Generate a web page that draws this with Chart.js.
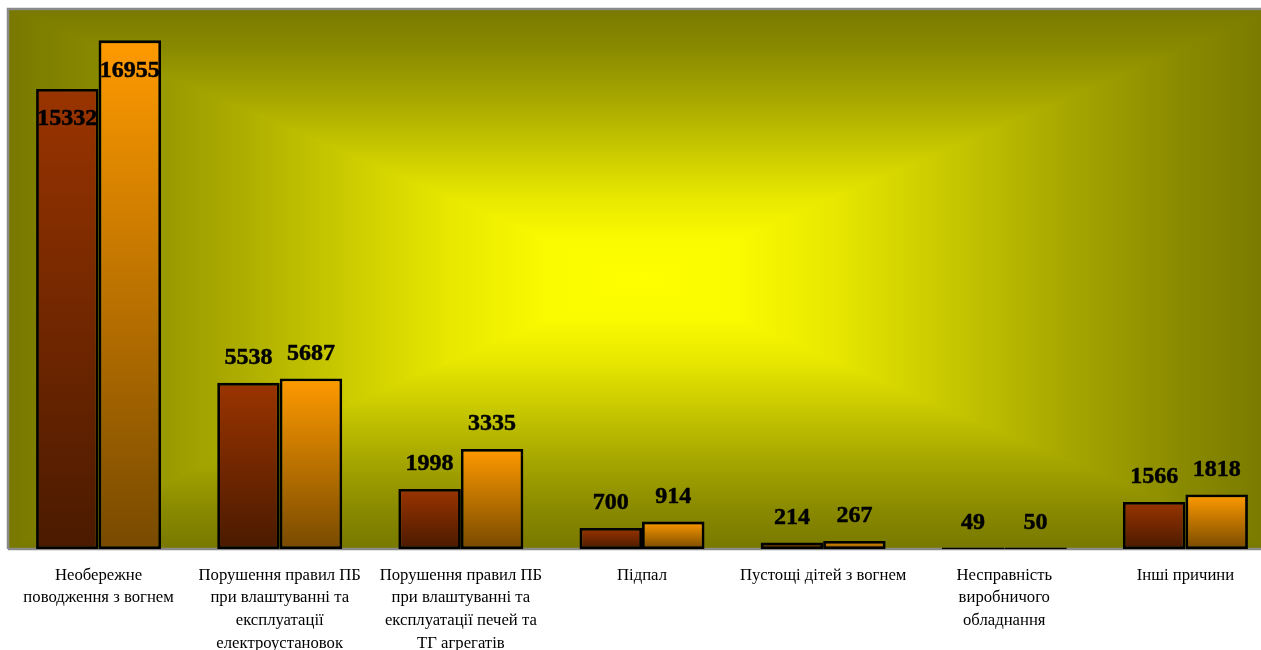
<!DOCTYPE html>
<html>
<head>
<meta charset="utf-8">
<script src="https://cdn.jsdelivr.net/npm/chart.js@4"></script>
<style>
html,body{margin:0;padding:0;background:#fff;overflow:hidden;}
#wrap{position:relative;width:1280px;height:650px;}
</style>
</head>
<body>
<div id="wrap"><canvas id="c"></canvas></div>
<script>
const categories = [
  ["Необережне", "поводження з вогнем"],
  ["Порушення правил ПБ", "при влаштуванні та", "експлуатації", "електроустановок"],
  ["Порушення правил ПБ", "при влаштуванні та", "експлуатації печей та", "ТГ агрегатів"],
  ["Підпал"],
  ["Пустощі дітей з вогнем"],
  ["Несправність", "виробничого", "обладнання"],
  ["Інші причини"]
];
const series1 = [15332, 5538, 1998, 700, 214, 49, 1566];
const series2 = [16955, 5687, 3335, 914, 267, 50, 1818];
const yMax = 18000;

function barGradient(top, bottom) {
  return function(ctx) {
    const chart = ctx.chart;
    if (!chart.chartArea || !chart.scales.y || ctx.type !== 'data') return top;
    const y = chart.scales.y;
    const v = ctx.raw;
    const yt = y.getPixelForValue(v), yb = y.getPixelForValue(0);
    if (!isFinite(yt) || Math.abs(yb - yt) < 1) return bottom;
    const g = chart.ctx.createLinearGradient(0, yt, 0, yb);
    g.addColorStop(0, top);
    g.addColorStop(1, bottom);
    return g;
  };
}

const bgPlugin = {
  id: 'bg',
  beforeDatasetsDraw(chart) {
    const {ctx, chartArea: a} = chart;
    const cx = (a.left + a.right) / 2, cy = (a.top + a.bottom) / 2;
    const stops = [[0,'#ffff00'],[0.15,'#fafa00'],[0.3,'#e8e800'],[0.47,'#caca00'],[0.66,'#a8a800'],[0.85,'#8a8a00'],[1,'#787800']];
    const mk = (x0, y0, x1, y1) => {
      const g = ctx.createLinearGradient(x0, y0, x1, y1);
      stops.forEach(s => g.addColorStop(s[0], s[1]));
      return g;
    };
    ctx.save();
    ctx.fillStyle = mk(cx, cy, cx, a.top);
    ctx.fillRect(a.left, a.top, a.right - a.left, cy - a.top + 1);
    ctx.fillStyle = mk(cx, cy, cx, a.bottom);
    ctx.fillRect(a.left, cy, a.right - a.left, a.bottom - cy);
    ctx.beginPath();
    ctx.moveTo(cx, cy); ctx.lineTo(a.left, a.top); ctx.lineTo(a.left, a.bottom); ctx.closePath();
    ctx.fillStyle = mk(cx, cy, a.left, cy);
    ctx.fill();
    ctx.beginPath();
    ctx.moveTo(cx, cy); ctx.lineTo(a.right, a.top); ctx.lineTo(a.right, a.bottom); ctx.closePath();
    ctx.fillStyle = mk(cx, cy, a.right, cy);
    ctx.fill();

    ctx.strokeStyle = '#8a8a8a';
    ctx.lineWidth = 2.5;
    ctx.beginPath();
    ctx.moveTo(a.left, a.bottom);
    ctx.lineTo(a.left, a.top);
    ctx.lineTo(a.right + 5, a.top);
    ctx.moveTo(a.left, a.bottom);
    ctx.lineTo(a.right + 5, a.bottom);
    ctx.stroke();
    ctx.restore();
  },
  afterDatasetsDraw(chart) {
    const ctx = chart.ctx;
    ctx.save();
    ctx.font = 'bold 24px "Liberation Serif"';
    ctx.fillStyle = '#000';
    ctx.strokeStyle = '#000';
    ctx.lineWidth = 0.5;
    ctx.lineJoin = 'round';
    ctx.textAlign = 'center';
    ctx.textBaseline = 'middle';
    chart.data.datasets.forEach((ds, di) => {
      const meta = chart.getDatasetMeta(di);
      meta.data.forEach((bar, i) => {
        const v = ds.data[i];
        const y = v > 10000 ? bar.y + 30 : bar.y - 25;
        ctx.fillText(String(v), bar.x, y);
        ctx.strokeText(String(v), bar.x, y);
      });
    });
    ctx.restore();
  }
};

new Chart(document.getElementById('c'), {
  type: 'bar',
  data: {
    labels: categories,
    datasets: [
      { data: series1, backgroundColor: barGradient('#9a3400', '#4a1a00'), borderColor: '#000', borderWidth: 2.8, borderSkipped: false },
      { data: series2, backgroundColor: barGradient('#ff9a00', '#784a00'), borderColor: '#000', borderWidth: 2.8, borderSkipped: false }
    ]
  },
  options: {
    responsive: true,
    maintainAspectRatio: false,
    animation: false,
    layout: { padding: { left: 8, top: 9, right: 4, bottom: 0 } },
    plugins: { legend: { display: false }, tooltip: { enabled: false } },
    datasets: { bar: { categoryPercentage: 0.69, barPercentage: 1 } },
    scales: {
      y: { display: false, min: 0, max: yMax },
      x: {
        grid: { display: false, drawTicks: false },
        border: { display: false },
        ticks: {
          autoSkip: false, maxRotation: 0, minRotation: 0,
          padding: 15,
          color: '#000',
          font: { family: '"Liberation Serif"', size: 16.7, lineHeight: 1.36 }
        },
        afterFit(scale) { scale.height = 101; }
      }
    }
  },
  plugins: [bgPlugin]
});
</script>
</body>
</html>
